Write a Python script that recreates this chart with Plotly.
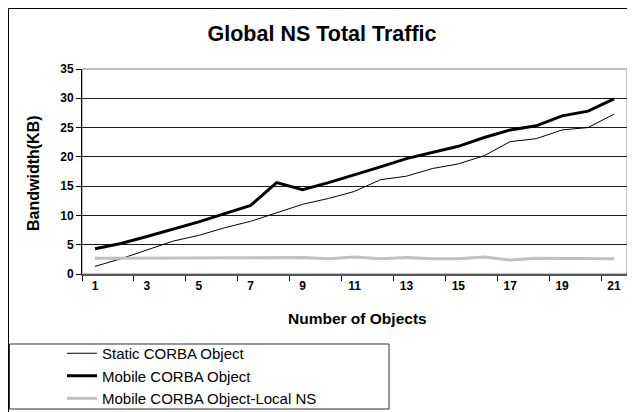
import plotly.graph_objects as go

# values
objects = list(range(1, 22))
static_corba = [1.3, 2.6, 4.1, 5.6, 6.6, 7.9, 9.0, 10.4, 11.9, 12.9, 14.1,
                16.1, 16.7, 18.0, 18.8, 20.2, 22.6, 23.1, 24.6, 25.0, 27.3]
mobile_corba = [4.3, 5.2, 6.4, 7.6, 8.9, 10.3, 11.7, 15.6, 14.4, 15.6, 16.9,
                18.3, 19.7, 20.8, 21.8, 23.3, 24.6, 25.3, 27.0, 27.8, 29.9]
mobile_local_ns = [2.7, 2.7, 2.7, 2.7, 2.7, 2.7, 2.7, 2.8, 2.8, 2.6, 2.9,
                   2.6, 2.8, 2.6, 2.6, 2.9, 2.4, 2.7, 2.7, 2.6, 2.6]
x_ticks = [1, 3, 5, 7, 9, 11, 13, 15, 17, 19, 21]
y_ticks = [0, 5, 10, 15, 20, 25, 30, 35]

FONT = "Liberation Sans, Arial, sans-serif"
# the page body has an 8px margin, so the figure starts at (8, 8)
OFF = 8
W, H = 635 - OFF, 412 - OFF
L, R, T, B = 82 - OFF, 8, 69 - OFF, 412 - 274
pw, ph = W - L - R, H - T - B


def px_x(p):
    # screen pixel -> paper x
    return (p - OFF - L) / pw


def px_y(p):
    # screen pixel -> paper y
    return (H - B - (p - OFF)) / ph


fig = go.Figure()
fig.add_trace(go.Scatter(x=objects, y=static_corba, mode="lines",
                         name="Static CORBA Object",
                         line=dict(color="black", width=1)))
fig.add_trace(go.Scatter(x=objects, y=mobile_corba, mode="lines",
                         name="Mobile CORBA Object",
                         line=dict(color="black", width=3)))
fig.add_trace(go.Scatter(x=objects, y=mobile_local_ns, mode="lines",
                         name="Mobile CORBA Object-Local NS",
                         line=dict(color="#c0c0c0", width=3)))

fig.update_xaxes(
    range=[0.5, 21.5], tickmode="array", tickvals=x_ticks,
    ticks="", showgrid=False, zeroline=False,
    showline=True, linecolor="#555555", linewidth=2,
    tickfont=dict(family=FONT, size=12, color="black", weight="bold"),
    minor=dict(tickmode="linear", tick0=0.5, dtick=2, ticks="outside",
               ticklen=5, tickcolor="black", tickwidth=1, showgrid=False),
)
fig.update_yaxes(
    range=[0, 35], tickmode="array", tickvals=y_ticks,
    ticks="outside", ticklen=5, tickcolor="black",
    showgrid=True, gridcolor="#1a1a1a", gridwidth=1, zeroline=False,
    showline=True, linecolor="black", linewidth=1,
    tickfont=dict(family=FONT, size=12, color="black", weight="bold"),
)

# chart outer border, plot area border and legend box
fig.add_shape(type="rect", xref="paper", yref="paper",
              x0=px_x(8.5), x1=px_x(660), y0=px_y(430), y1=px_y(8.5),
              line=dict(color="black", width=1), layer="below")
fig.add_shape(type="rect", xref="paper", yref="paper",
              x0=0, x1=1, y0=0, y1=1,
              line=dict(color="#808080", width=1), layer="between")
fig.add_shape(type="rect", xref="paper", yref="paper",
              x0=px_x(9.5), x1=px_x(389), y0=px_y(409), y1=px_y(344),
              line=dict(color="#333333", width=1), fillcolor="white")

fig.add_annotation(text="<b>Bandwidth(KB)</b>", xref="paper", yref="paper",
                   x=px_x(33), y=px_y(173), xanchor="center", yanchor="middle",
                   textangle=-90, showarrow=False,
                   font=dict(family=FONT, size=16, color="black"))
fig.add_annotation(text="<b>Number of Objects</b>", xref="paper", yref="paper",
                   x=px_x(357), y=px_y(318), xanchor="center", yanchor="middle",
                   showarrow=False,
                   font=dict(family=FONT, size=15.5, color="black"))

fig.update_layout(
    width=W, height=H,
    margin=dict(l=L, r=R, t=T, b=B, autoexpand=False),
    paper_bgcolor="white", plot_bgcolor="white",
    title=dict(text="<b>Global NS Total Traffic</b>",
               x=(322 - OFF) / W, xanchor="center",
               y=1 - (33 - OFF) / H, yanchor="middle",
               font=dict(family=FONT, size=21.5, color="black")),
    legend=dict(x=px_x(62), y=px_y(337), xanchor="left", yanchor="top",
                bgcolor="rgba(0,0,0,0)", borderwidth=0,
                font=dict(family=FONT, size=15, color="black"),
                tracegroupgap=0),
    showlegend=True,
)

fig.write_html("out.html")
